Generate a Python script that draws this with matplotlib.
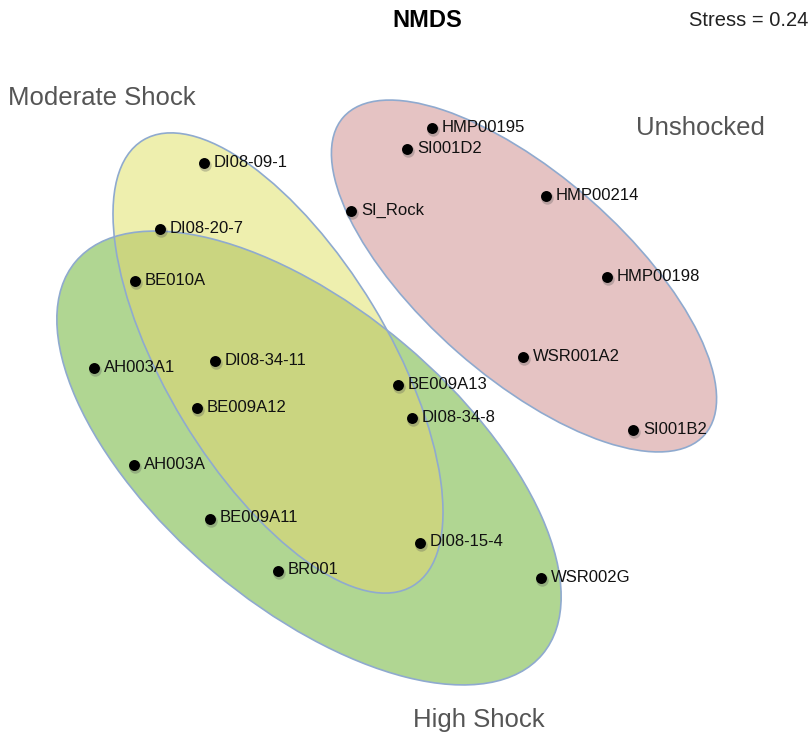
import matplotlib
matplotlib.use("Agg")
import matplotlib.pyplot as plt
from matplotlib.patches import Ellipse

# ---- data (NMDS ordination scores, plotted in chart units) ----
samples = ["HMP00195", "SI001D2", "DI08-09-1", "HMP00214", "SI_Rock", "DI08-20-7",
           "BE010A", "HMP00198", "WSR001A2", "AH003A1", "DI08-34-11", "BE009A13",
           "BE009A12", "DI08-34-8", "SI001B2", "AH003A", "BE009A11", "DI08-15-4",
           "BR001", "WSR002G"]
nmds1 = [432, 407, 204, 546, 351, 160, 135, 607, 523, 94, 215, 398,
         197, 412, 633, 134, 210, 420, 278, 541]
nmds2 = [128, 149, 163, 196, 211, 229, 281, 277, 357, 368, 361, 385,
         408, 418, 430, 465, 519, 543, 571, 578]

groups = ["High Shock", "Moderate Shock", "Unshocked"]
group_cx = [309, 278, 524]
group_cy = [458, 363, 276]
group_major = [610, 521, 481]
group_minor = [297, 222, 202]
group_angle = [40.1, 58.8, 41.3]

title = "NMDS"
stress_text = "Stress = 0.24"

# ---- styles ----
fills = {"High Shock": "#b0d692", "Moderate Shock": "#eeefae", "Unshocked": "#e5c3c3"}
overlap_color = "#cad580"
edge_color = "#8faacf"
font = "Liberation Sans"

fig = plt.figure(figsize=(8.12, 7.37), dpi=100)
ax = fig.add_axes([0, 0, 1, 1])
ax.set_xlim(0, 812)
ax.set_ylim(737, 0)
ax.axis("off")

ells = {}
for g, cx, cy, w, h, a in zip(groups, group_cx, group_cy, group_major, group_minor, group_angle):
    e = Ellipse((cx, cy), w, h, angle=a, facecolor=fills[g], edgecolor="none", zorder=1)
    ax.add_patch(e)
    ells[g] = (cx, cy, w, h, a)

# overlap of moderate & high shock
cx, cy, w, h, a = ells["Moderate Shock"]
ov = Ellipse((cx, cy), w, h, angle=a, facecolor=overlap_color, edgecolor="none", zorder=2)
ax.add_patch(ov)
hs = ells["High Shock"]
clip = Ellipse(hs[:2], hs[2], hs[3], angle=hs[4], transform=ax.transData)
ov.set_clip_path(clip)

for g in groups:
    cx, cy, w, h, a = ells[g]
    ax.add_patch(Ellipse((cx, cy), w, h, angle=a, facecolor="none",
                         edgecolor=edge_color, lw=1.2, zorder=3))

# points with slight shadow
ax.scatter([x + 1.5 for x in nmds1], [y + 2 for y in nmds2], s=80, color="#555555",
           alpha=0.3, zorder=4, linewidths=0)
ax.scatter(nmds1, nmds2, s=62, color="black", zorder=5, linewidths=0)
for name, x, y in zip(samples, nmds1, nmds2):
    ax.text(x + 10, y - 1, name, fontsize=12, family=font, va="center", ha="left",
            color="#111111", zorder=6)

# titles & group labels
ax.text(427, 20, title, fontsize=17, fontweight="bold", family=font, ha="center",
        va="center", color="black")
ax.text(808, 20, stress_text, fontsize=14.5, family=font, ha="right", va="center",
        color="#222222")
label_pos = {"Moderate Shock": (8, 98), "Unshocked": (636, 128), "High Shock": (413, 720)}
for g in groups:
    lx, ly = label_pos[g]
    ax.text(lx, ly, g, fontsize=18.5, family=font, ha="left", va="center", color="#555555")

fig.savefig("out.png", dpi=100)
